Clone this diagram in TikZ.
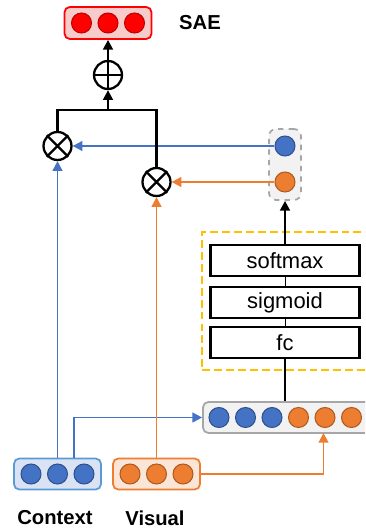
\documentclass[tikz,border=0pt]{standalone}
\usepackage{fontspec}
\setmainfont{Liberation Sans}
\usetikzlibrary{positioning, arrows.meta, calc}
\definecolor{dotBlue}{RGB}{68, 114, 196}
\definecolor{dotBlueDk}{RGB}{47, 82, 143}
\definecolor{dotOrg}{RGB}{237, 125, 49}
\definecolor{dotOrgDk}{RGB}{174, 90, 33}
\definecolor{dotRed}{RGB}{255, 0, 0}
\definecolor{dotRedDk}{RGB}{192, 0, 0}
\definecolor{ctxEdge}{RGB}{91, 155, 213}
\definecolor{ctxFill}{RGB}{218, 227, 243}
\definecolor{visFill}{RGB}{251, 229, 214}
\definecolor{saeFill}{RGB}{248, 203, 203}
\definecolor{grayEdge}{RGB}{166, 166, 166}
\definecolor{grayFill}{RGB}{242, 242, 242}
\definecolor{attnYel}{RGB}{255, 192, 0}

\begin{document}
\begin{tikzpicture}[
        x=0.02cm, y=-0.02cm,
        font=\fontsize{12.5}{14}\selectfont,
        dot/.style={circle, draw, line width=0.6pt, minimum size=0.4cm, inner sep=0pt},
        bdot/.style={dot, draw=dotBlueDk, fill=dotBlue},
        odot/.style={dot, draw=dotOrgDk, fill=dotOrg},
        rdot/.style={dot, draw=dotRedDk, fill=dotRed},
        vec/.style={rectangle, rounded corners=3pt, line width=1pt, minimum width=1.74cm,
            minimum height=0.62cm},
        op/.style={circle, draw, line width=1.3pt, minimum size=0.56cm, inner sep=0pt},
        layer/.style={rectangle, draw, line width=1.2pt, minimum width=2.98cm,
            minimum height=0.62cm, inner sep=0pt},
        arr/.style={-{Triangle[length=5.5pt, width=5.5pt]}, line width=1.3pt},
        barr/.style={-{Triangle[length=5.5pt, width=5.5pt]}, line width=1.1pt, dotBlue},
        oarr/.style={-{Triangle[length=5.5pt, width=5.5pt]}, line width=1.1pt, dotOrg},
        lbl/.style={font=\fontsize{11.5}{14}\selectfont\bfseries}
    ]
    \clip (0,0) rectangle (365,530);

    % attention block
    \node[draw=attnYel, dashed, dash pattern=on 4.5pt off 2.3pt, line width=1.6pt,
        minimum width=3.56cm, minimum height=2.76cm] (attn) at (291,301) {};
    \node[layer] (softmax) at (285,260.5) {softmax};
    \node[layer] (sigmoid) at (285,302.5) {sigmoid};
    \node[layer] (fc) at (285,342.5) {fc};
    \draw (fc) -- (sigmoid);
    \draw (sigmoid) -- (softmax);

    % gates
    \node[vec, draw=grayEdge, fill=grayFill, dashed, rounded corners=4pt,
        minimum width=0.64cm, minimum height=1.42cm] (gate) at (285,164.5) {};
    \node[bdot] (gb) at (285,146) {};
    \node[odot] (go) at (285,182) {};
    \draw[arr] (softmax.north) -- (softmax.north |- gate.south);

    % input vectors
    \node[vec, draw=ctxEdge, fill=ctxFill] (ctx) at (57.5,474) {};
    \foreach \i/\x in {1/31, 2/57.5, 3/84}
        \node[bdot] (ctx\i) at (\x,474) {};
    \node[vec, draw=dotOrg, fill=visFill] (vis) at (156.5,474) {};
    \foreach \i/\x in {1/130, 2/156.5, 3/183}
        \node[odot] (vis\i) at (\x,474) {};
    \node[lbl] (ctxlbl) at (55,518) {Context};
    \node[lbl] (vislbl) at (155,518) {Visual};

    % concatenation
    \node[vec, draw=grayEdge, fill=grayFill, minimum width=3.54cm] (cat) at (291.5,417.5) {};
    \foreach \i/\x in {1/219, 2/245.5, 3/272}
        \node[bdot] (cat\i) at (\x,417.5) {};
    \foreach \i/\x in {4/298.5, 5/325, 6/351.5}
        \node[odot] (cat\i) at (\x,417.5) {};
    \draw[line width=1.3pt] (fc.south) -- (fc.south |- cat.north);

    \coordinate (ctxtap) at (74,458);
    \coordinate (visin) at (323.5,433);
    \draw[barr] (ctxtap) |- (cat.west);
    \draw[oarr] (vis.east) -| (visin);

    % weighting and sum
    \node[op] (mulL) at (57.5,146) {};
    \node[op] (mulR) at (156.5,182) {};
    \foreach \n in {mulL, mulR}
        \draw[line width=1.3pt] (\n.north west) -- (\n.south east) (\n.north east) -- (\n.south west);
    \node[op] (add) at (108,75) {};
    \draw[line width=1.3pt] (add.north) -- (add.south) (add.west) -- (add.east);

    \draw[barr] (ctx.north) -- (mulL);
    \draw[oarr] (vis.north) -- (mulR);
    \draw[barr] (gb) -- (mulL);
    \draw[oarr] (go) -- (mulR);

    \coordinate (join) at (108,110);
    \draw[line width=1.3pt] (mulL) |- (join) -| (mulR);
    \draw[arr] (join) -- (add);

    % output
    \node[vec, draw=dotRed, fill=saeFill, minimum width=1.74cm, minimum height=0.64cm] (sae) at (108,23) {};
    \foreach \i/\x in {1/81.5, 2/108, 3/134.5}
        \node[rdot] (sae\i) at (\x,23) {};
    \draw[arr] (add) -- (sae);
    \node[lbl] (saelbl) at (200,23) {SAE};
\end{tikzpicture}
\end{document}
